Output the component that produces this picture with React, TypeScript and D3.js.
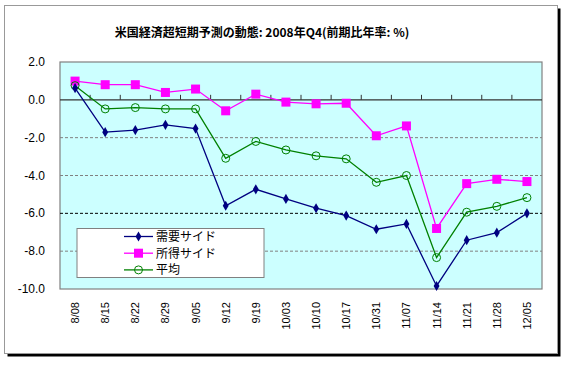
import React from "react";
import * as d3 from "d3";

const dates = ["8/08", "8/15", "8/22", "8/29", "9/05", "9/12", "9/19", "10/03", "10/10", "10/17", "10/31", "11/07", "11/14", "11/21", "11/28", "12/05"];
const demandSide = [0.62, -1.71, -1.6, -1.32, -1.52, -5.6, -4.73, -5.24, -5.73, -6.12, -6.84, -6.56, -9.84, -7.42, -7.02, -6.0];
const incomeSide = [0.99, 0.8, 0.8, 0.39, 0.57, -0.58, 0.3, -0.12, -0.21, -0.18, -1.9, -1.38, -6.8, -4.43, -4.2, -4.32];
const average = [0.75, -0.48, -0.41, -0.48, -0.48, -3.09, -2.2, -2.65, -2.96, -3.12, -4.36, -4.0, -8.34, -5.94, -5.63, -5.17];
const yTicks = [2, 0, -2, -4, -6, -8, -10];
const seriesNames = ["需要サイド", "所得サイド", "平均"];
const title = "米国経済超短期予測の動態: 2008年Q4(前期比年率: %)";

const W = 566, H = 366;
const plot = { left: 60, top: 62, right: 542, bottom: 289 };

export default function App() {
  const x = d3.scaleBand<string>().domain(dates).range([plot.left, plot.right]);
  const y = d3.scaleLinear().domain([-10, 2]).range([plot.bottom, plot.top]);
  const cx = (d: string) => (x(d) as number) + x.bandwidth() / 2;
  const line = (vals: number[]) =>
    d3.line<number>().x((_, i) => cx(dates[i])).y((v) => y(v))(vals) as string;

  const font = "Arial, 'Liberation Sans', sans-serif";
  const jpFont = "'Noto Sans CJK JP', sans-serif";
  const diamond = d3.symbol().type(d3.symbolDiamond).size(30)() as string;

  const legendRows = [
    { name: seriesNames[0], color: "#000080", kind: "diamond" },
    { name: seriesNames[1], color: "#FF00FF", kind: "square" },
    { name: seriesNames[2], color: "#008000", kind: "circle" },
  ];

  const marker = (kind: string, color: string, px: number, py: number, key: any) => {
    if (kind === "diamond")
      return <path key={key} d={diamond} transform={`translate(${px},${py})`} fill={color} />;
    if (kind === "square")
      return <rect key={key} x={px - 4.5} y={py - 4.5} width={9} height={9} fill={color} />;
    return <circle key={key} cx={px} cy={py} r={4} fill="none" stroke={color} strokeWidth={1} />;
  };

  return (
    <svg width={W} height={H} style={{ position: "absolute", left: 0, top: 0 }}>
      <rect x={0} y={0} width={W} height={H} fill="#fff" />
      {/* frame with shadow */}
      <rect x={7.5} y={8.5} width={553} height={348} fill="#000" />
      <rect x={4.5} y={5.5} width={553} height={348} fill="#fff" stroke="#999" strokeWidth={1} />

      <text x={262} y={37} textAnchor="middle" fontFamily={jpFont} fontSize={12} fontWeight="bold" fill="#000">
        {title}
      </text>

      <rect x={plot.left} y={plot.top} width={plot.right - plot.left} height={plot.bottom - plot.top}
        fill="#CCFFFF" stroke="#808080" strokeWidth={1.2} />

      {yTicks.filter((t) => t < 0 && t > -10).map((t) => (
        <line key={t} x1={plot.left} x2={plot.right} y1={y(t)} y2={y(t)}
          stroke={t === -6 ? "#000" : "#808080"} strokeDasharray="3,2" strokeWidth={1} />
      ))}
      <line x1={plot.left} x2={plot.right} y1={y(0)} y2={y(0)} stroke="#333" strokeWidth={1.2} />
      {dates.slice(1).map((d) => (
        <line key={d} x1={x(d)} x2={x(d)} y1={y(0)} y2={y(0) - 5} stroke="#333" />
      ))}

      {yTicks.map((t) => (
        <text key={t} x={45} y={y(t) + 4} textAnchor="end" fontFamily={font} fontSize={12} fill="#000">
          {t.toFixed(1)}
        </text>
      ))}
      {dates.map((d) => (
        <text key={d} transform={`translate(${cx(d) + 4},${plot.bottom + 13}) rotate(-90)`}
          textAnchor="end" fontFamily={font} fontSize={11} fill="#000">
          {d}
        </text>
      ))}

      <path d={line(incomeSide)} fill="none" stroke="#FF00FF" strokeWidth={1.3} />
      <path d={line(average)} fill="none" stroke="#008000" strokeWidth={1.3} />
      <path d={line(demandSide)} fill="none" stroke="#000080" strokeWidth={1.3} />
      {incomeSide.map((v, i) => marker("square", "#FF00FF", cx(dates[i]), y(v), "s" + i))}
      {average.map((v, i) => marker("circle", "#008000", cx(dates[i]), y(v), "c" + i))}
      {demandSide.map((v, i) => marker("diamond", "#000080", cx(dates[i]), y(v), "d" + i))}

      <rect x={77} y={228.5} width={187} height={49} fill="#fff" stroke="#808080" strokeWidth={1} />
      {legendRows.map((r, i) => {
        const ly = 236.5 + i * 16.7;
        return (
          <g key={r.name}>
            <line x1={124} x2={153} y1={ly} y2={ly} stroke={r.color} strokeWidth={1.3} />
            {marker(r.kind, r.color, 138.5, ly, "m" + i)}
            <text x={156} y={ly + 4.5} fontFamily={jpFont} fontSize={12} fill="#000">{r.name}</text>
          </g>
        );
      })}
    </svg>
  );
}
